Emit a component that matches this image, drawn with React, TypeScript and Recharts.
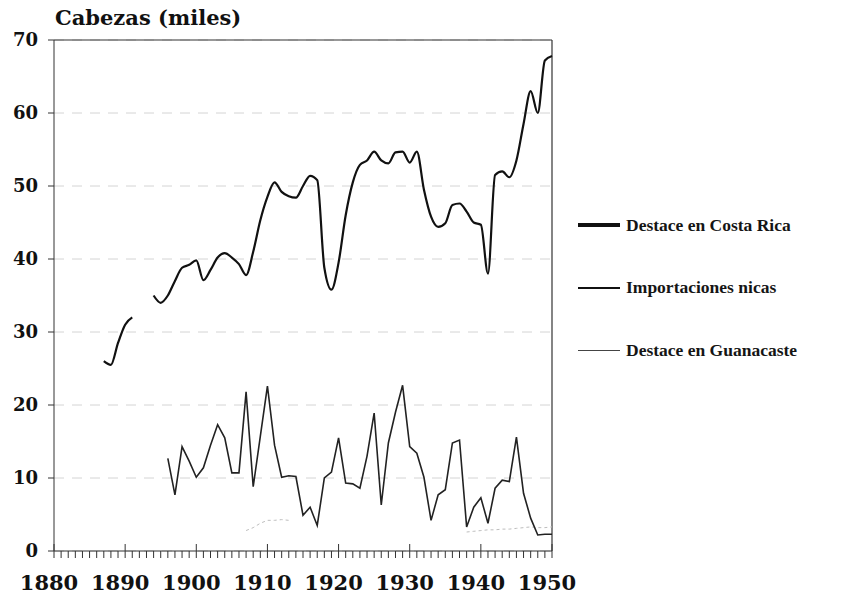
import { LineChart, Line, XAxis, YAxis, CartesianGrid, ReferenceLine } from 'recharts';

// years 1880..1950, one value per year (null = no data)
const years = Array.from({ length: 71 }, (_, i) => 1880 + i);

const costaRica = [
  null, null, null, null, null, null, null,
  26, 25.5, 28.5, 31, 32,
  null, null,
  35, 34, 35, 37, 38.8, 39.2, 39.8, 37.1, 38.5, 40.2, 40.8, 40.2, 39.3, 37.8, 41, 45.3,
  48.5, 50.5, 49.2, 48.6, 48.4, 50, 51.4, 50.8, 38.8, 35.8,
  39.5, 46, 50.5, 52.9, 53.5, 54.7, 53.5, 53.1, 54.6, 54.7,
  53.2, 54.7, 49.5, 45.8, 44.4, 44.9, 47.4, 47.6, 46.5, 45,
  44.7, 38, 51.5, 52, 51.2, 53.5, 58.5, 63, 60, 67.2, 67.8,
];

const importaciones = [
  null, null, null, null, null, null, null, null, null, null,
  null, null, null, null, null, null,
  12.7, 7.7, 14.3, 12.3,
  10.1, 11.4, 14.5, 17.3, 15.5, 10.7, 10.7, 21.8, 8.8, 15.7,
  22.6, 14.5, 10.1, 10.3, 10.2, 4.9, 6, 3.5, 10, 10.8,
  15.5, 9.3, 9.2, 8.6, 13, 18.9, 6.3, 14.8, 19, 22.7,
  14.3, 13.4, 10.1, 4.2, 7.7, 8.4, 14.8, 15.2, 3.3, 6,
  7.3, 3.8, 8.6, 9.7, 9.5, 15.6, 7.9, 4.5, 2.2, 2.3, 2.3,
];

const guanacaste = [
  null, null, null, null, null, null, null, null, null, null,
  null, null, null, null, null, null, null, null, null, null,
  null, null, null, null, null, null, null, 2.8, 3.2, 3.8,
  4.2, 4.2, 4.3, 4.2, null, null, null, null, null, null,
  null, null, null, null, null, null, null, null, null, null,
  null, null, null, null, null, null, null, null, 2.6, 2.7,
  2.8, 2.9, 2.9, 3, 3, 3.1, 3.2, 3.3, 3.2, 3.2, 3.3,
];

const yTicks = [0, 10, 20, 30, 40, 50, 60, 70];

const seriesNames = ['Destace en Costa Rica', 'Importaciones nicas', 'Destace en Guanacaste'];
const legendWidths = [4, 2, 1];

const data = years.map((year, i) => ({
  year,
  costaRica: costaRica[i],
  importaciones: importaciones[i],
  guanacaste: guanacaste[i],
}));

const serif = '"DejaVu Serif", serif';

function YearTick({ x, y, payload }: any) {
  const year = payload.value as number;
  const major = year % 10 === 0;
  return (
    <g>
      <line x1={x} x2={x} y1={major ? y - 7 : y} y2={y + 7} stroke="#333" strokeWidth={1} />
      {major && (
        <text x={x - 5} y={y + 39} textAnchor="middle" fontFamily={serif} fontWeight="bold" fontSize={21} fill="#111">
          {year}
        </text>
      )}
    </g>
  );
}

export default function App() {
  return (
    <div style={{ position: 'absolute', left: 0, top: 0, width: 848, height: 604, background: '#fff' }}>
      <div style={{ position: 'absolute', left: 55, top: 5, fontFamily: serif, fontWeight: 'bold', fontSize: 21, color: '#111', zIndex: 2 }}>
        Cabezas (miles)
      </div>
      <LineChart width={848} height={604} data={data} margin={{ top: 40, right: 296, bottom: 0, left: 0 }}>
        <CartesianGrid horizontal vertical={false} stroke="#d4d4d4" strokeDasharray="10 8" />
        <XAxis
          dataKey="year"
          type="number"
          domain={[1880, 1950]}
          ticks={years}
          interval={0}
          height={53}
          tickLine={false}
          tickSize={0}
          tickMargin={0}
          stroke="#333"
          tick={<YearTick />}
        />
        <YAxis
          domain={[0, 70]}
          ticks={yTicks}
          width={54}
          stroke="#333"
          tickSize={6}
          tickMargin={10}
          tick={{ fontFamily: serif, fontWeight: 'bold', fontSize: 18, fill: '#111' }}
        />
        <ReferenceLine y={70} stroke="#333" strokeWidth={1.2} />
        <ReferenceLine x={1950} stroke="#333" strokeWidth={1.2} />
        <Line
          dataKey="guanacaste"
          type="linear"
          stroke="#bdbdbd"
          strokeWidth={1}
          strokeDasharray="3 3"
          dot={false}
          connectNulls={false}
          isAnimationActive={false}
        />
        <Line
          dataKey="importaciones"
          type="linear"
          stroke="#222"
          strokeWidth={1.6}
          dot={false}
          connectNulls={false}
          isAnimationActive={false}
        />
        <Line
          dataKey="costaRica"
          type="monotone"
          stroke="#111"
          strokeWidth={2.2}
          dot={false}
          connectNulls={false}
          isAnimationActive={false}
        />
      </LineChart>
      <div
        style={{
          position: 'absolute',
          left: 578,
          top: 194,
          fontFamily: '"Liberation Serif", serif',
          fontSize: 17.5,
          fontWeight: 'bold',
          color: '#151515',
        }}
      >
        {seriesNames.map((name, i) => (
          <div key={name} style={{ display: 'flex', alignItems: 'center', height: 62.5 }}>
            <span
              style={{
                display: 'inline-block',
                width: 42,
                height: legendWidths[i],
                background: i === 2 ? '#444' : '#111',
                marginRight: 6,
              }}
            />
            <span>{name}</span>
          </div>
        ))}
      </div>
    </div>
  );
}
